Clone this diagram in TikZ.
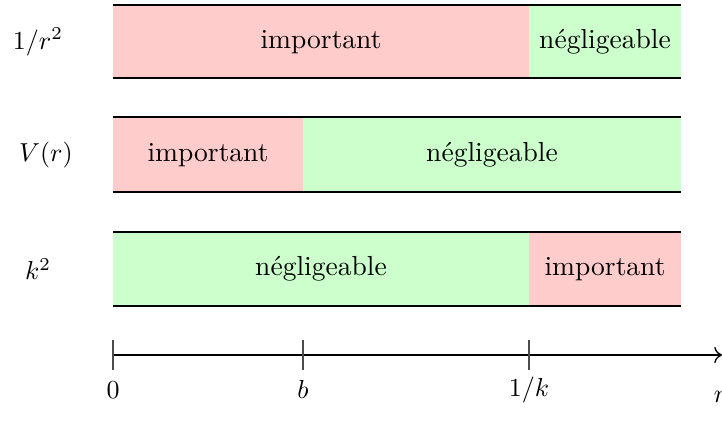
\documentclass[tikz,border=0pt]{standalone}
\usetikzlibrary{arrows.meta}
\begin{document}
\begin{tikzpicture}[x=0.385pt,y=-0.385pt,
  imp/.style={fill=red!20},
  neg/.style={fill=green!20},
  edge/.style={draw=black,line width=0.8pt},
  lbl/.style={inner sep=0pt},
  txt/.style={inner sep=0pt,font=\fontsize{10.6}{13}\selectfont},
  tick/.style={draw=black!70,line width=0.5pt}]
\useasboundingbox (0,0) rectangle (722,435);
% bar 1
\fill[imp] (113,5) rectangle (529,78);
\fill[neg] (529,5) rectangle (681,78);
\draw[edge] (113,5) -- (681,5) (113,78) -- (681,78);
\node[lbl] (l1) at (38,42) {$1/r^2$};
\node[txt] (t1a) at (321,42) {important};
\node[txt] (t1b) at (605,42) {négligeable};
% bar 2
\fill[imp] (113,117) rectangle (303,192);
\fill[neg] (303,117) rectangle (681,192);
\draw[edge] (113,117) -- (681,117) (113,192) -- (681,192);
\node[lbl] (l2) at (46,155) {$V(r)$};
\node[txt] (t2a) at (208,155) {important};
\node[txt] (t2b) at (492,155) {négligeable};
% bar 3
\fill[neg] (113,232) rectangle (529,306);
\fill[imp] (529,232) rectangle (681,306);
\draw[edge] (113,232) -- (681,232) (113,306) -- (681,306);
\node[lbl] (l3) at (38,269) {$k^2$};
\node[txt] (t3a) at (321,269) {négligeable};
\node[txt] (t3b) at (605,269) {important};
% axis
\coordinate (a0) at (113,355);
\coordinate (a1) at (722,355);
\draw[line width=0.5pt,-{To[length=3pt]}] (a0) -- (a1);
\foreach \x in {113,303,529}{
  \draw[tick] (\x,340) -- (\x,370);
}
\node[lbl] (n0) at (113,390) {$0$};
\node[lbl] (nb) at (303,389) {$b$};
\node[lbl] (nk) at (529,390) {$1/k$};
\node[lbl] (nr) at (720,397) {$r$};
\end{tikzpicture}
\end{document}
